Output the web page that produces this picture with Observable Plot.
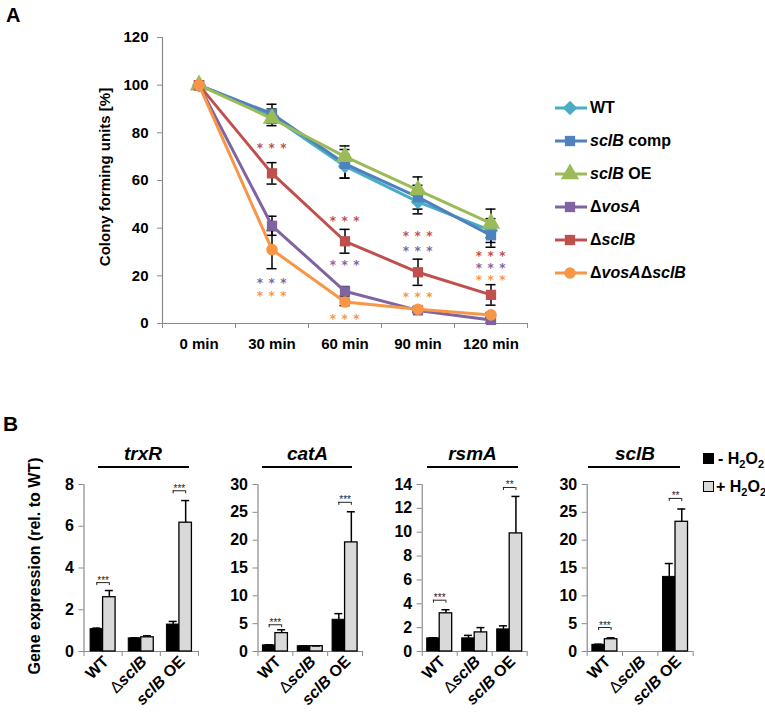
<!DOCTYPE html>
<html><head><meta charset="utf-8">
<script src="https://cdn.jsdelivr.net/npm/d3@7"></script>
<script src="https://cdn.jsdelivr.net/npm/@observablehq/plot@0.6"></script>
<style>
body{margin:0;background:#fff;}
#fig{position:relative;width:765px;height:713px;overflow:hidden;font-family:'Liberation Sans',Arial,sans-serif;}
#fig svg{position:absolute;}
.t{position:absolute;white-space:nowrap;line-height:1;font-weight:bold;color:#000;}
</style></head><body><div id="fig"></div>
<script>
// ---------- Panel A data ----------
const times = ["0 min", "30 min", "60 min", "90 min", "120 min"];
const seriesA = ["WT", "sclB comp", "sclB OE", "ΔvosA", "ΔsclB", "ΔvosAΔsclB"];
const colorsA = ["#4BACC6", "#4F81BD", "#9BBB59", "#8064A2", "#C0504D", "#F79646"];
const symbolsA = ["diamond2", "square", "triangle", "square", "square", "circle"];
const markerR = [6.5, 5.8, 6.8, 5.8, 5.8, 5.8];
const cfuWT = [100, 87, 66, 51, 39];
const cfuComp = [100, 88, 67, 53, 37];
const cfuOE = [100, 86, 70, 56, 42];
const cfuVosA = [100, 41, 13.5, 5.5, 1.5];
const cfuSclB = [100, 63, 34.5, 21.5, 12];
const cfuDouble = [100, 31, 9, 6, 3.6];
const errWT = [0, 3, 5, 5, 5];
const errComp = [0, 4, 6, 5, 5];
const errOE = [0, 3, 4.5, 5.5, 6];
const errVosA = [0, 4, 2, 1, 1];
const errSclB = [0, 4.5, 5, 5.5, 4.3];
const errDouble = [0, 8, 1.5, 1, 1];
const yTicksA = [0, 20, 40, 60, 80, 100, 120];
// significance asterisks (colour = series compared with WT)
const starTime = ["30 min", "30 min", "30 min", "60 min", "60 min", "60 min", "90 min", "90 min", "90 min", "120 min", "120 min", "120 min"];
const starSeries = ["ΔsclB", "ΔvosA", "ΔvosAΔsclB", "ΔsclB", "ΔvosA", "ΔvosAΔsclB", "ΔsclB", "ΔvosA", "ΔvosAΔsclB", "ΔsclB", "ΔvosA", "ΔvosAΔsclB"];
const starY = [74.5, 18, 12.5, 44, 25.6, 3, 37.8, 31.5, 12.2, 29.4, 24.2, 19.1];

// ---------- Panel B data ----------
const genotypes = ["WT", "ΔsclB", "sclB OE"];
const genes = ["trxR", "catA", "rsmA", "sclB"];
const trxRMinus = [1.07, 0.63, 1.29], trxRMinusErr = [0.05, 0.03, 0.15];
const trxRPlus = [2.6, 0.68, 6.17], trxRPlusErr = [0.32, 0.07, 1.06];
const catAMinus = [1.1, 0.95, 5.7], catAMinusErr = [0.1, 0.05, 1.1];
const catAPlus = [3.3, 0.95, 19.6], catAPlusErr = [0.6, 0.05, 5.5];
const rsmAMinus = [1.1, 1.1, 1.85], rsmAMinusErr = [0.05, 0.25, 0.3];
const rsmAPlus = [3.2, 1.6, 9.9], rsmAPlusErr = [0.3, 0.4, 3.1];
const sclBMinus = [1.2, 0, 13.4], sclBMinusErr = [0.1, 0, 2.4];
const sclBPlus = [2.2, 0, 23.3], sclBPlusErr = [0.25, 0, 2.3];
const yMaxB = [8, 30, 14, 30];
const yStepB = [2, 5, 2, 5];
const sigGenotype = [0, 2];
const trxRSigY = [3.3, 7.7], trxRSig = ["***", "***"];
const catASigY = [4.8, 26.8], catASig = ["***", "***"];
const rsmASigY = [4.3, 13.75], rsmASig = ["***", "**"];
const sclBSigY = [4.3, 27.5], sclBSig = ["***", "**"];
const legendB = ["- H₂O₂", "+ H₂O₂"];

// ---------- helpers ----------
const fig = document.getElementById("fig");
const FONT = "'Liberation Sans', Arial, sans-serif";
const axisGray = "#8a8a8a";
const SVGNS = "http://www.w3.org/2000/svg";
function text(html, x, baseline, fs, opts = {}) {
  const d = document.createElement("div");
  d.className = "t";
  d.innerHTML = html;
  d.style.fontSize = fs + "px";
  d.style.left = x + "px";
  d.style.top = (baseline - 0.8465 * fs) + "px";
  if (opts.anchor === "middle") d.style.transform = "translateX(-50%)";
  if (opts.style) d.style.cssText += opts.style;
  fig.appendChild(d);
  return d;
}
function rotText(str, cx, cy, fs) {
  const d = document.createElement("div");
  d.className = "t";
  d.textContent = str;
  d.style.cssText += `font-size:${fs}px;left:${cx}px;top:${cy}px;transform:translate(-50%,-50%) rotate(-90deg);`;
  fig.appendChild(d);
}
function place(svg, left, top) {
  svg.style.left = left + "px";
  svg.style.top = top + "px";
  fig.appendChild(svg);
}
function italicize(root) {
  root.querySelectorAll("text").forEach(t => {
    if (t.children.length) return;
    const s = t.textContent;
    if (!/sclB|vosA/.test(s)) return;
    t.textContent = "";
    s.split(/(sclB|vosA|Δ)/).forEach(part => {
      if (!part) return;
      const ts = document.createElementNS(SVGNS, "tspan");
      ts.textContent = part;
      if (part === "sclB" || part === "vosA") ts.setAttribute("font-style", "italic");
      if (part === "Δ") ts.setAttribute("font-weight", "normal");
      t.appendChild(ts);
    });
  });
}

// ---------- Panel A ----------
const cfuAll = [cfuWT, cfuComp, cfuOE, cfuVosA, cfuSclB, cfuDouble];
const errAll = [errWT, errComp, errOE, errVosA, errSclB, errDouble];
const rowsA = seriesA.flatMap((s, si) => times.map((t, ti) => ({s, si, ti, v: cfuAll[si][ti], e: errAll[si][ti]})));
const errRows = rowsA.filter(d => d.e > 0);
const starRows = starTime.map((t, k) => ({ti: times.indexOf(t), y: starY[k], s: starSeries[k]}));
const bounds = d3.range(times.length + 1).map(i => i - 0.5);

const plotA = Plot.plot({
  width: 540, height: 360,
  marginLeft: 162, marginRight: 13, marginTop: 37, marginBottom: 37,
  style: {fontFamily: FONT, background: "transparent"},
  x: {domain: [-0.5, times.length - 0.5]},
  y: {domain: [0, 120]},
  color: {domain: seriesA, range: colorsA},
  symbol: {domain: seriesA, range: symbolsA},
  marks: [
    Plot.ruleX([-0.5], {stroke: axisGray, strokeWidth: 1.2}),
    Plot.ruleY([0], {stroke: axisGray, strokeWidth: 1.2}),
    Plot.axisY({ticks: yTicksA, tickSize: 5, tickPadding: 9, stroke: axisGray, fill: "black", fontSize: 15, fontWeight: "bold", label: null}),
    Plot.axisX({ticks: bounds, tickFormat: () => "", tickSize: 5, stroke: axisGray, label: null}),
    Plot.axisX({ticks: d3.range(times.length), tickFormat: i => times[i], tickSize: 0, tickPadding: 15, fill: "black", fontSize: 15, fontWeight: "bold", label: null}),
    Plot.ruleX(errRows, {x: "ti", y1: d => d.v - d.e, y2: d => d.v + d.e, stroke: "black", strokeWidth: 1.5}),
    Plot.ruleY(errRows, {y: d => d.v + d.e, x1: "ti", x2: "ti", insetLeft: -5, insetRight: -5, stroke: "black", strokeWidth: 1.5}),
    Plot.ruleY(errRows, {y: d => d.v - d.e, x1: "ti", x2: "ti", insetLeft: -5, insetRight: -5, stroke: "black", strokeWidth: 1.5}),
    ...seriesA.flatMap((s, si) => [
      Plot.line(rowsA.filter(d => d.s === s), {x: "ti", y: "v", stroke: "s", strokeWidth: 3}),
      Plot.dot(rowsA.filter(d => d.s === s), {x: "ti", y: "v", fill: "s", symbol: "s", r: markerR[si]})
    ]),
    Plot.text(starRows, {x: "ti", y: "y", fill: "s", text: () => "* * *", fontSize: 12, fontWeight: "bold", fontFamily: "DejaVu Sans", dy: 2.6})
  ]
});
plotA.querySelectorAll('g[aria-label="text"] text').forEach(t => t.setAttribute("letter-spacing", "0.7"));
place(plotA, 0, 0);

text("A", 6, 22, 20);
rotText("Colony forming units [%]", 104, 177, 15);

// legend A
const legNames = ["WT", "<i>sclB</i> comp", "<i>sclB</i> OE", "Δ<i>vosA</i>", "Δ<i>sclB</i>", "Δ<i>vosA</i>Δ<i>sclB</i>"];
const legSvg = d3.create("svg").attr("width", 45).attr("height", 210);
seriesA.forEach((s, i) => {
  const y = 18 + 33 * i;
  legSvg.append("line").attr("x1", 5).attr("x2", 37).attr("y1", y).attr("y2", y).attr("stroke", colorsA[i]).attr("stroke-width", 3);
  const sym = {diamond2: d3.symbolDiamond2, square: d3.symbolSquare, triangle: d3.symbolTriangle, circle: d3.symbolCircle}[symbolsA[i]];
  legSvg.append("path").attr("transform", `translate(20,${y})`).attr("d", d3.symbol(sym, Math.PI * markerR[i] * markerR[i])()).attr("fill", colorsA[i]);
  text(legNames[i], 590, y + 90 + 6, 16);
});
place(legSvg.node(), 550, 90);

// ---------- Panel B ----------
text("B", 3, 431, 21);
rotText("Gene expression (rel. to WT)", 35, 566, 16);

const BW = 12.5; // bar width in px
const TOP_B = 470;
function panelB(k, left, axisX, endX, minus, minusErr, plus, plusErr, sigY, sig) {
  const rows = genotypes.map((g, i) => ({g, i, c: i + 0.5, m: minus[i], me: minusErr[i], p: plus[i], pe: plusErr[i]}));
  const mRows = rows.filter(d => d.m > 0), pRows = rows.filter(d => d.p > 0);
  const sRows = sigGenotype.map((g, j) => ({c: g + 0.5, y: sigY[j], t: sig[j]}));
  const marginLeft = axisX - left;
  const p = Plot.plot({
    width: marginLeft + (endX - axisX) + 30, height: 243,
    marginLeft, marginRight: 30, marginTop: 14, marginBottom: 62,
    style: {fontFamily: FONT, background: "transparent"},
    x: {domain: [0, genotypes.length]},
    y: {domain: [0, yMaxB[k]]},
    marks: [
      Plot.ruleX([0], {stroke: axisGray, strokeWidth: 1.2}),
      Plot.ruleY([0], {stroke: axisGray, strokeWidth: 1.2}),
      Plot.axisY({ticks: d3.range(0, yMaxB[k] + 1e-9, yStepB[k]), tickSize: 5, tickPadding: 5, stroke: axisGray, fill: "black", fontSize: 16, fontWeight: "bold", label: null}),
      Plot.axisX({ticks: d3.range(genotypes.length + 1), tickFormat: () => "", tickSize: 5, stroke: axisGray, label: null}),
      Plot.text(rows, {x: "c", text: "g", frameAnchor: "bottom", rotate: -45, textAnchor: "end", dx: 6.5, dy: 11, fontSize: 16, fontWeight: "bold", fill: "black"}),
      Plot.rect(mRows, {x1: "c", x2: "c", y1: () => 0, y2: "m", insetLeft: -BW, insetRight: 0, fill: "black", stroke: "black", strokeWidth: 1}),
      Plot.rect(pRows, {x1: "c", x2: "c", y1: () => 0, y2: "p", insetLeft: 0, insetRight: -BW, fill: "#D9D9D9", stroke: "black", strokeWidth: 1.3}),
      Plot.ruleX(mRows, {x: "c", y1: "m", y2: d => d.m + d.me, dx: -BW / 2, stroke: "black", strokeWidth: 1.5}),
      Plot.ruleY(mRows, {y: d => d.m + d.me, x1: "c", x2: "c", dx: -BW / 2, insetLeft: -4, insetRight: -4, stroke: "black", strokeWidth: 1.5}),
      Plot.ruleX(pRows, {x: "c", y1: "p", y2: d => d.p + d.pe, dx: BW / 2, stroke: "black", strokeWidth: 1.5}),
      Plot.ruleY(pRows, {y: d => d.p + d.pe, x1: "c", x2: "c", dx: BW / 2, insetLeft: -4, insetRight: -4, stroke: "black", strokeWidth: 1.5}),
      Plot.ruleY(sRows, {y: "y", x1: "c", x2: "c", insetLeft: -BW / 2, insetRight: -BW / 2, stroke: "#222", strokeWidth: 1}),
      Plot.ruleX(sRows, {x: "c", y1: "y", y2: "y", dx: -BW / 2, insetBottom: -3, stroke: "#222", strokeWidth: 1}),
      Plot.ruleX(sRows, {x: "c", y1: "y", y2: "y", dx: BW / 2, insetBottom: -3, stroke: "#222", strokeWidth: 1}),
      Plot.text(sRows, {x: "c", y: "y", text: "t", lineAnchor: "bottom", fontSize: 10, fill: "#222", dy: 1})
    ]
  });
  italicize(p);
  place(p, left, TOP_B);
}
panelB(0, 0, 83.5, 198, trxRMinus, trxRMinusErr, trxRPlus, trxRPlusErr, trxRSigY, trxRSig);
panelB(1, 215, 257.5, 362, catAMinus, catAMinusErr, catAPlus, catAPlusErr, catASigY, catASig);
panelB(2, 380, 421.7, 526.7, rsmAMinus, rsmAMinusErr, rsmAPlus, rsmAPlusErr, rsmASigY, rsmASig);
panelB(3, 545, 586.7, 692.7, sclBMinus, sclBMinusErr, sclBPlus, sclBPlusErr, sclBSigY, sclBSig);

// gene titles with underline
const titleX = [143, 307.5, 472.5, 635];
const lineX = [[98, 189], [262, 352], [427, 518], [588, 680]];
genes.forEach((g, i) => {
  text(g, titleX[i], 460, 19, {anchor: "middle", style: "font-style:italic;"});
  const l = document.createElement("div");
  l.style.cssText = `position:absolute;left:${lineX[i][0]}px;top:466px;width:${lineX[i][1] - lineX[i][0]}px;height:1.6px;background:#000;`;
  fig.appendChild(l);
});

// legend B
const sub = s => s.replace(/₂/g, '<span style="font-size:11px;position:relative;top:4px">2</span>');
const sw1 = document.createElement("div");
sw1.style.cssText = "position:absolute;left:703px;top:453px;width:11px;height:11px;background:#000;";
fig.appendChild(sw1);
const sw2 = document.createElement("div");
sw2.style.cssText = "position:absolute;left:703px;top:481px;width:9px;height:9px;background:#D9D9D9;border:1.5px solid #000;";
fig.appendChild(sw2);
text(sub(legendB[0]), 718, 465, 16);
text(sub(legendB[1]), 716, 493, 16);
</script></body></html>
